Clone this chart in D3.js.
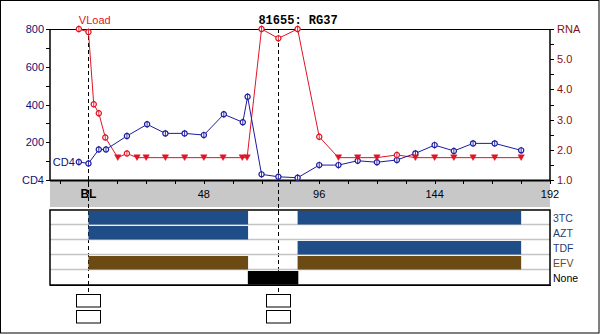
<!DOCTYPE html>
<html>
<head>
<meta charset="utf-8">
<script src="https://cdn.jsdelivr.net/npm/d3@7"></script>
<style>
  html, body { margin: 0; padding: 0; background: #fff; }
  svg { display: block; }
  text { font-family: "Liberation Sans", Arial, sans-serif; }
  text.title { font-family: "Liberation Mono", "DejaVu Sans Mono", monospace; font-weight: bold; }
</style>
</head>
<body>
<script>
// Patient record: CD4 count and viral load (log10 RNA) over weeks from baseline
const title = "81655: RG37";

const cd4Weeks  = [-4, 0, 4.3, 7.3, 16, 24.4, 32, 40, 48, 56.3, 64.2, 66.2, 72, 79, 87, 96, 104, 112, 120, 128.3, 136, 144, 152, 160, 169, 180];
const cd4Values = [95, 88, 162, 162, 233, 295, 247, 247, 238, 348, 306, 441, 30, 17, 12, 79, 79, 102, 94, 106, 141, 185, 154, 194, 194, 157];

const vlWeeks    = [-4, 0, 2.2, 4.3, 7, 12.2, 16, 20.2, 24, 32, 40, 48, 56, 64, 66, 72, 79, 87, 96, 104, 112, 120, 128.3, 136, 144, 152, 160, 169, 180];
const vlValues   = [6.0, 5.9, 3.51, 3.21, 2.41, 1.74, 1.88, 1.74, 1.74, 1.74, 1.74, 1.74, 1.74, 1.74, 1.74, 6.0, 5.69, 6.0, 2.43, 1.74, 1.74, 1.74, 1.83, 1.74, 1.74, 1.74, 1.74, 1.74, 1.74];
// true = below the detection limit (drawn as a filled triangle)
const vlCensored = [false, false, false, false, false, true, false, true, true, true, true, true, true, true, true, false, false, false, false, true, true, true, false, true, true, true, true, true, true];

const xTickValues = [0, 48, 96, 144, 192];
const xTickLabels = ["BL", "48", "96", "144", "192"];
const cd4TickValues = [0, 200, 400, 600, 800];
const cd4TickLabels = ["CD4", "200", "400", "600", "800"];
const rnaTickValues = [1, 2, 3, 4, 5, 6];
const rnaTickLabels = ["1.0", "2.0", "3.0", "4.0", "5.0", "RNA"];

const visitWeeks = [0, 79];

const drugNames   = ["3TC", "AZT", "TDF", "EFV", "None"];
const periodDrug  = ["3TC", "AZT", "EFV", "3TC", "TDF", "EFV", "None"];
const periodStart = [0, 0, 0, 87, 87, 87, 66.3];
const periodEnd   = [66.4, 66.4, 66.4, 180, 180, 180, 87.3];

// Styling
const W = 600, H = 334;
const C = {
  cd4: "#1c1ca0", cd4Text: "#10107a",
  vl: "#e01424", vlText: "#8a1010",
  nrti: "#1f4d88", nnrti: "#6b4a14", none: "#000000",
  band: "#c8c8c8", grid: "#c4c4c4"
};
const drugColor = { "3TC": C.nrti, "AZT": C.nrti, "TDF": C.nrti, "EFV": C.nnrti, "None": C.none };
const drugLabelColor = { "3TC": "#1f3f7a", "AZT": "#1f3f7a", "TDF": "#1f3f7a", "EFV": "#6b4a14", "None": "#000" };

const svg = d3.select("body").append("svg").attr("width", W).attr("height", H);

// Outer frame
svg.append("rect").attr("x", 0.5).attr("y", 0.5).attr("width", W - 1.5).attr("height", H - 1.5)
  .attr("fill", "#fff").attr("stroke", "#000").attr("stroke-width", 1);

const plot = { left: 50, right: 550, top: 29, bottom: 180 };
const x = d3.scaleLinear().domain([-16, 192]).range([plot.left, plot.right]);
const yCd4 = d3.scaleLinear().domain([0, 800]).range([plot.bottom, plot.top]);
const yRna = d3.scaleLinear().domain([1, 6]).range([plot.bottom, plot.top]);

// Grey band under the time axis
svg.append("rect").attr("x", plot.left).attr("y", plot.bottom).attr("width", plot.right - plot.left)
  .attr("height", 27).attr("fill", C.band);

// Treatment panel
const panel = { top: 210, bottom: 285 };
const rowY = d3.scaleBand().domain(drugNames).range([panel.top, panel.bottom]);

// Dashed visit lines (behind everything else)
svg.selectAll("line.visit").data(visitWeeks).join("line")
  .attr("class", "visit")
  .attr("x1", d => Math.round(x(d)) + 0.5).attr("x2", d => Math.round(x(d)) + 0.5)
  .attr("y1", plot.top).attr("y2", 294)
  .attr("stroke", "#000").attr("stroke-width", 1).attr("stroke-dasharray", "4,3");

// Row separators
svg.selectAll("line.rowsep").data(drugNames.slice(1)).join("line")
  .attr("class", "rowsep")
  .attr("x1", plot.left).attr("x2", plot.right)
  .attr("y1", d => rowY(d) - 0.5).attr("y2", d => rowY(d) - 0.5)
  .attr("stroke", C.grid).attr("stroke-width", 1.5);

// Treatment bars
svg.selectAll("rect.period").data(periodDrug.map((d, i) => ({ drug: d, s: periodStart[i], e: periodEnd[i] })))
  .join("rect").attr("class", "period")
  .attr("x", d => x(d.s)).attr("width", d => x(d.e) - x(d.s))
  .attr("y", d => rowY(d.drug) + 1).attr("height", rowY.bandwidth() - 1.5)
  .attr("fill", d => drugColor[d.drug]);

// Panel frame
svg.append("rect").attr("x", plot.left).attr("y", panel.top).attr("width", plot.right - plot.left)
  .attr("height", panel.bottom - panel.top).attr("fill", "none").attr("stroke", "#000").attr("stroke-width", 1.5);
svg.append("line").attr("x1", plot.left).attr("x2", plot.right + 1).attr("y1", panel.bottom + 0.5).attr("y2", panel.bottom + 0.5)
  .attr("stroke", "#000").attr("stroke-width", 1);

// Drug labels
svg.selectAll("text.drug").data(drugNames).join("text")
  .attr("class", "drug")
  .attr("x", plot.right + 3).attr("y", d => rowY(d) + rowY.bandwidth() / 2 + 4)
  .attr("font-size", 10.5).attr("fill", d => drugLabelColor[d]).text(d => d);

// Visit boxes
visitWeeks.forEach(w => {
  [294.5, 310.5].forEach(yy => {
    svg.append("rect").attr("x", Math.round(x(w)) - 11.5).attr("y", yy).attr("width", 24).attr("height", 12.5)
      .attr("fill", "#fff").attr("stroke", "#000").attr("stroke-width", 1);
  });
});

// Top border of plot
svg.append("line").attr("x1", plot.left).attr("x2", plot.right).attr("y1", plot.top + 0.5).attr("y2", plot.top + 0.5)
  .attr("stroke", "#000").attr("stroke-width", 1.2);

// Left axis (CD4)
const leftAxis = svg.append("g").attr("transform", `translate(${plot.left},0)`);
leftAxis.append("line").attr("x1", 0).attr("x2", 0).attr("y1", plot.top).attr("y2", plot.bottom + 1)
  .attr("stroke", "#000").attr("stroke-width", 1.5);
leftAxis.selectAll("line.t").data(d3.range(0, 801, 100)).join("line").attr("class", "t")
  .attr("x1", -4).attr("x2", 0).attr("y1", d => Math.round(yCd4(d)) + 0.5).attr("y2", d => Math.round(yCd4(d)) + 0.5)
  .attr("stroke", "#000");
leftAxis.selectAll("text").data(cd4TickValues).join("text")
  .attr("x", -6).attr("y", d => yCd4(d) + 4).attr("text-anchor", "end")
  .attr("font-size", 11).attr("fill", C.cd4Text).text((d, i) => cd4TickLabels[i]);

// Right axis (log10 RNA)
const rightAxis = svg.append("g").attr("transform", `translate(${plot.right},0)`);
rightAxis.append("line").attr("x1", 0).attr("x2", 0).attr("y1", plot.top).attr("y2", plot.bottom + 1)
  .attr("stroke", "#000").attr("stroke-width", 1.5);
rightAxis.selectAll("line.t").data(d3.range(1, 6.01, 0.5)).join("line").attr("class", "t")
  .attr("x1", 0).attr("x2", 4).attr("y1", d => Math.round(yRna(d)) + 0.5).attr("y2", d => Math.round(yRna(d)) + 0.5)
  .attr("stroke", "#000");
rightAxis.selectAll("text").data(rnaTickValues).join("text")
  .attr("x", 7).attr("y", d => yRna(d) + 4)
  .attr("font-size", 11).attr("fill", C.vlText).text((d, i) => rnaTickLabels[i]);

// Bottom time axis
svg.append("line").attr("x1", plot.left).attr("x2", plot.right).attr("y1", plot.bottom + 0.5).attr("y2", plot.bottom + 0.5)
  .attr("stroke", "#000").attr("stroke-width", 2);
svg.selectAll("line.xt").data(d3.range(-12, 193, 12)).join("line").attr("class", "xt")
  .attr("x1", d => Math.round(x(d)) + 0.5).attr("x2", d => Math.round(x(d)) + 0.5)
  .attr("y1", plot.bottom).attr("y2", plot.bottom + 4).attr("stroke", "#000");
svg.selectAll("text.xl").data(xTickValues).join("text").attr("class", "xl")
  .attr("x", d => x(d)).attr("y", 198).attr("text-anchor", "middle")
  .attr("font-size", d => d === 0 ? 12 : 11).attr("font-weight", d => d === 0 ? "bold" : "normal")
  .attr("fill", "#000").text((d, i) => xTickLabels[i]);

// Viral load series
const vl = vlWeeks.map((w, i) => ({ w, v: vlValues[i], c: vlCensored[i] }));
svg.append("path").datum(vl)
  .attr("d", d3.line().x(d => x(d.w)).y(d => yRna(d.v)))
  .attr("fill", "none").attr("stroke", C.vl).attr("stroke-width", 1);

// CD4 series
const cd4 = cd4Weeks.map((w, i) => ({ w, v: cd4Values[i] }));
svg.append("path").datum(cd4)
  .attr("d", d3.line().x(d => x(d.w)).y(d => yCd4(d.v)))
  .attr("fill", "none").attr("stroke", C.cd4).attr("stroke-width", 1);

function ringMarker(sel, color) {
  sel.append("circle").attr("r", 2.6).attr("fill", "#fff").attr("stroke", color).attr("stroke-width", 1.2);
  sel.append("line").attr("x1", 0).attr("x2", 0).attr("y1", -3.5).attr("y2", 3.5)
    .attr("stroke", color).attr("stroke-width", 0.9);
}

svg.selectAll("g.cd4m").data(cd4).join("g").attr("class", "cd4m")
  .attr("transform", d => `translate(${x(d.w)},${yCd4(d.v)})`)
  .call(ringMarker, C.cd4);

svg.selectAll("g.vlm").data(vl.filter(d => !d.c)).join("g").attr("class", "vlm")
  .attr("transform", d => `translate(${x(d.w)},${yRna(d.v)})`)
  .call(ringMarker, C.vl);

svg.selectAll("path.vlc").data(vl.filter(d => d.c)).join("path").attr("class", "vlc")
  .attr("transform", d => `translate(${x(d.w)},${yRna(d.v)})`)
  .attr("d", "M-3.2,-2.8L3.2,-2.8L0,2.8Z").attr("fill", C.vl).attr("stroke", C.vl).attr("stroke-width", 0.5);

// Series labels
svg.append("text").attr("x", x(-4)).attr("y", 24).attr("font-size", 11).attr("fill", C.vl).text("VLoad");
svg.append("text").attr("x", x(-4) - 4).attr("y", yCd4(cd4Values[0]) + 4).attr("text-anchor", "end")
  .attr("font-size", 11).attr("fill", C.cd4Text).text("CD4");

// Title
svg.append("text").attr("class", "title").attr("x", 298).attr("y", 24).attr("text-anchor", "middle")
  .attr("font-size", 12).attr("fill", "#000").text(title);
</script>
</body>
</html>
